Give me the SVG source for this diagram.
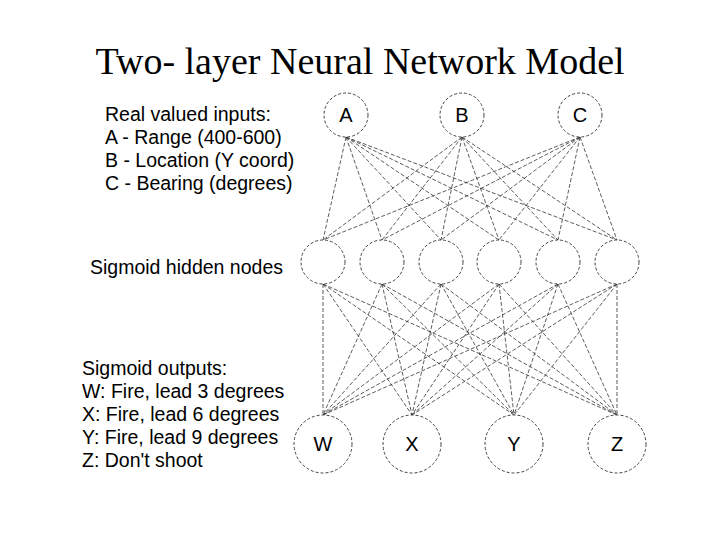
<svg xmlns="http://www.w3.org/2000/svg" width="720" height="540" viewBox="0 0 720 540">
<style>
.n{fill:#fff;stroke:#444;stroke-width:1;stroke-dasharray:3,2}
.c line{stroke:#333;stroke-width:0.8;stroke-dasharray:4,2}
.l{font-family:"Liberation Sans",Arial,sans-serif;font-size:19.5px;fill:#000}
.nl{font-family:"Liberation Sans",Arial,sans-serif;font-size:20px;fill:#000;text-anchor:middle}
</style>
<rect width="720" height="540" fill="#fff"/>
<text x="360" y="74" text-anchor="middle" font-family="'Liberation Serif','Times New Roman',serif" font-size="38">Two- layer Neural Network Model</text>
<g class="l">
<text x="105" y="121">Real valued inputs:</text>
<text x="105" y="144">A - Range (400-600)</text>
<text x="105" y="167">B - Location (Y coord)</text>
<text x="105" y="190">C - Bearing (degrees)</text>
<text x="90" y="274">Sigmoid hidden nodes</text>
<text x="82" y="375">Sigmoid outputs:</text>
<text x="82" y="398">W: Fire, lead 3 degrees</text>
<text x="82" y="421">X: Fire, lead 6 degrees</text>
<text x="82" y="444">Y: Fire, lead 9 degrees</text>
<text x="82" y="467">Z: Don't shoot</text>
</g>
<g class="c">
<line x1="346" y1="137" x2="323" y2="240"/><line x1="346" y1="137" x2="382" y2="240"/><line x1="346" y1="137" x2="441" y2="240"/><line x1="346" y1="137" x2="499" y2="240"/><line x1="346" y1="137" x2="558" y2="240"/><line x1="346" y1="137" x2="617" y2="240"/>
<line x1="462" y1="137" x2="323" y2="240"/><line x1="462" y1="137" x2="382" y2="240"/><line x1="462" y1="137" x2="441" y2="240"/><line x1="462" y1="137" x2="499" y2="240"/><line x1="462" y1="137" x2="558" y2="240"/><line x1="462" y1="137" x2="617" y2="240"/>
<line x1="580" y1="137" x2="323" y2="240"/><line x1="580" y1="137" x2="382" y2="240"/><line x1="580" y1="137" x2="441" y2="240"/><line x1="580" y1="137" x2="499" y2="240"/><line x1="580" y1="137" x2="558" y2="240"/><line x1="580" y1="137" x2="617" y2="240"/>
<line x1="323" y1="284" x2="323" y2="415"/><line x1="323" y1="284" x2="412" y2="415"/><line x1="323" y1="284" x2="514" y2="415"/><line x1="323" y1="284" x2="617" y2="415"/>
<line x1="382" y1="284" x2="323" y2="415"/><line x1="382" y1="284" x2="412" y2="415"/><line x1="382" y1="284" x2="514" y2="415"/><line x1="382" y1="284" x2="617" y2="415"/>
<line x1="441" y1="284" x2="323" y2="415"/><line x1="441" y1="284" x2="412" y2="415"/><line x1="441" y1="284" x2="514" y2="415"/><line x1="441" y1="284" x2="617" y2="415"/>
<line x1="499" y1="284" x2="323" y2="415"/><line x1="499" y1="284" x2="412" y2="415"/><line x1="499" y1="284" x2="514" y2="415"/><line x1="499" y1="284" x2="617" y2="415"/>
<line x1="558" y1="284" x2="323" y2="415"/><line x1="558" y1="284" x2="412" y2="415"/><line x1="558" y1="284" x2="514" y2="415"/><line x1="558" y1="284" x2="617" y2="415"/>
<line x1="617" y1="284" x2="323" y2="415"/><line x1="617" y1="284" x2="412" y2="415"/><line x1="617" y1="284" x2="514" y2="415"/><line x1="617" y1="284" x2="617" y2="415"/>
</g>
<g id="A"><circle class="n" cx="346" cy="115" r="22"/><text class="nl" x="346" y="122">A</text></g>
<g id="B"><circle class="n" cx="462" cy="115" r="22"/><text class="nl" x="462" y="122">B</text></g>
<g id="C"><circle class="n" cx="580" cy="115" r="22"/><text class="nl" x="580" y="122">C</text></g>
<g id="H1"><circle class="n" cx="323" cy="262" r="22"/></g>
<g id="H2"><circle class="n" cx="382" cy="262" r="22"/></g>
<g id="H3"><circle class="n" cx="441" cy="262" r="22"/></g>
<g id="H4"><circle class="n" cx="499" cy="262" r="22"/></g>
<g id="H5"><circle class="n" cx="558" cy="262" r="22"/></g>
<g id="H6"><circle class="n" cx="617" cy="262" r="22"/></g>
<g id="W"><circle class="n" cx="323" cy="444" r="29"/><text class="nl" x="323" y="451">W</text></g>
<g id="X"><circle class="n" cx="412" cy="444" r="29"/><text class="nl" x="412" y="451">X</text></g>
<g id="Y"><circle class="n" cx="514" cy="444" r="29"/><text class="nl" x="514" y="451">Y</text></g>
<g id="Z"><circle class="n" cx="617" cy="444" r="29"/><text class="nl" x="617" y="451">Z</text></g>
</svg>
